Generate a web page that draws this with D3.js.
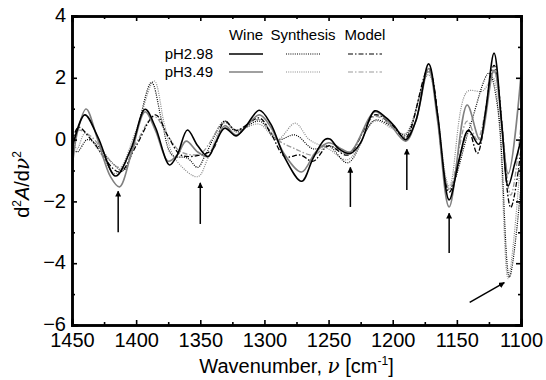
<!DOCTYPE html>
<html>
<head>
<meta charset="utf-8">
<script src="https://cdn.jsdelivr.net/npm/d3@7"></script>
<style>
  body { margin: 0; background: #fff; }
  svg { display: block; font-family: Arial, "Liberation Sans", sans-serif; }
  .axis path, .axis line { stroke: #000; }
  .axis path { stroke-width: 2.5; }
  .axis line { stroke-width: 1.6; }
  .axis text { font-size: 20px; fill: #000; }
</style>
</head>
<body>
<svg id="chart" width="546" height="380"></svg>
<script>
// wavenumber [cm-1], d2A/dv2 — picked off the figure at peaks and troughs
const winePH298 = [
  [1450, -0.3], [1440, 0.8], [1430, 0.1], [1416, -1.18], [1404, -0.3], [1393, 0.98],
  [1385, 0.4], [1374, -0.82], [1368, -0.5], [1360, 0.31], [1352, -0.2], [1344, -0.55],
  [1338, -0.1], [1331, 0.37], [1322, 0.12], [1315, 0.4], [1304, 0.95], [1295, 0.5],
  [1284, -0.6], [1271, -1.35], [1262, -0.6], [1253, 0.0], [1249, 0.02], [1242, -0.3],
  [1233, -0.45], [1225, -0.1], [1214, 0.93], [1205, 0.7], [1198, 0.4], [1190, 0.0],
  [1182, 0.6], [1172, 2.45], [1165, 0.8], [1156, -1.95], [1148, -0.6], [1141, 0.3],
  [1133, -0.15], [1128, 0.8], [1121, 2.8], [1115, 0.5], [1110, -1.5], [1105, -0.8], [1100, 0.0]
]
const winePH349 = [
  [1450, -1.0], [1446, 0.2], [1439, 0.99], [1430, 0.0], [1420, -1.2], [1413, -1.53],
  [1404, -0.5], [1393, 0.9], [1385, 0.3], [1375, -0.7], [1368, -0.5], [1361, -0.05],
  [1352, -0.4], [1344, -0.55], [1331, 0.45], [1322, 0.15], [1304, 0.8], [1295, 0.4],
  [1284, -0.5], [1271, -1.05], [1260, -0.4], [1250, -0.1], [1240, -0.3], [1233, -0.4],
  [1214, 0.9], [1205, 0.65], [1190, -0.05], [1182, 0.6], [1172, 2.3], [1165, 0.6],
  [1156, -2.18], [1142, 1.12], [1132, 0.0], [1121, 2.25], [1110, -1.1], [1100, 2.1]
]
const synthPH298 = [
  [1450, -0.2], [1446, -0.4], [1438, 0.0], [1430, -0.2], [1420, -0.7], [1410, -1.0],
  [1400, 0.2], [1388, 1.85], [1380, 0.6], [1372, -0.5], [1360, -0.6], [1352, -0.9],
  [1346, -0.5], [1331, 0.6], [1322, 0.25], [1304, 0.6], [1290, 0.0], [1276, 0.15],
  [1262, -0.3], [1250, -0.2], [1235, -0.75], [1214, 0.63], [1200, 0.4], [1190, 0.15],
  [1172, 2.2], [1156, -1.6], [1140, 0.4], [1125, 2.15], [1118, 1.0], [1109, -4.45], [1100, -1.5]
]
const synthPH349 = [
  [1450, 0.1], [1446, -0.3], [1440, 0.2], [1430, -0.3], [1416, -1.1], [1400, 0.3],
  [1386, 1.9], [1378, 0.5], [1370, -0.6], [1352, -1.2], [1344, -0.6], [1331, 0.55],
  [1322, 0.3], [1304, 0.5], [1290, 0.0], [1276, 0.53], [1265, 0.0], [1250, -0.3],
  [1235, -0.65], [1214, 0.6], [1200, 0.35], [1190, 0.2], [1172, 2.1], [1156, -1.5],
  [1142, 1.55], [1130, 1.57], [1122, 2.0], [1117, 0.5], [1110, -4.5], [1100, -0.5]
]
const modelPH298 = [
  [1450, -0.1], [1445, 0.4], [1435, 0.0], [1413, -1.05], [1400, -0.2], [1385, 0.8],
  [1375, 0.1], [1365, -0.5], [1350, -0.5], [1340, -0.3], [1331, 0.6], [1322, 0.3],
  [1304, 0.7], [1295, 0.2], [1284, -0.55], [1272, -0.5], [1262, -0.7], [1250, -0.2],
  [1235, -0.5], [1214, 0.8], [1200, 0.45], [1190, 0.05], [1172, 2.3], [1156, -1.7],
  [1141, 0.3], [1134, -0.45], [1121, 2.4], [1108, -2.2], [1100, -0.3]
]
const modelPH349 = [
  [1450, 0.0], [1445, 0.3], [1435, 0.1], [1413, -0.9], [1400, -0.1], [1386, 0.75],
  [1375, 0.1], [1365, -0.4], [1350, -0.45], [1331, 0.55], [1322, 0.3], [1304, 0.65],
  [1290, 0.0], [1276, -0.3], [1262, -0.5], [1250, -0.2], [1235, -0.45], [1214, 0.75],
  [1200, 0.4], [1190, 0.1], [1172, 2.2], [1156, -1.6], [1142, 0.6], [1134, 0.0],
  [1121, 2.2], [1108, -1.8], [1100, 0.5]
]

// arrows: [x from, y from, x to, y to] in data units
const arrows = [
  [1414, -3.0, 1414, -1.67],
  [1350, -2.73, 1350, -1.4],
  [1233, -2.18, 1233, -0.9],
  [1189, -1.63, 1189, -0.31],
  [1156, -3.67, 1156, -2.38],
  [1140, -5.27, 1113, -4.63]
]

const xMajorTicks = [1450, 1400, 1350, 1300, 1250, 1200, 1150, 1100]
const xMinorTicks = [1425, 1375, 1325, 1275, 1225, 1175, 1125]
const yMajorTicks = [-6, -4, -2, 0, 2, 4]
const yMinorTicks = [-5, -3, -1, 1, 3]

const legendRows = ['pH2.98', 'pH3.49']
const legendCols = ['Wine', 'Synthesis', 'Model']

const width = 546
const height = 380
const margin = { top: 16, right: 25, bottom: 55, left: 72 }
const innerW = width - margin.left - margin.right
const innerH = height - margin.top - margin.bottom

const series = [
  { data: synthPH349, color: '#8a8a8a', dash: '1,1.2', w: 1.2 },
  { data: synthPH298, color: '#000', dash: '1,1.2', w: 1.2 },
  { data: modelPH349, color: '#9a9a9a', dash: '5,2,1.5,2', w: 1.3 },
  { data: modelPH298, color: '#000', dash: '5,2,1.5,2', w: 1.3 },
  { data: winePH349, color: '#808080', dash: null, w: 1.6 },
  { data: winePH298, color: '#000', dash: null, w: 1.6 }
]

const svg = d3.select('#chart')
const g = svg.append('g').attr('transform', `translate(${margin.left},${margin.top})`)

const x = d3.scaleLinear().domain([1450, 1100]).range([0, innerW])
const y = d3.scaleLinear().domain([-6, 4]).range([innerH, 0])

svg.append('defs').append('clipPath').attr('id', 'plot-clip')
  .append('rect').attr('width', innerW).attr('height', innerH)

const line = d3.line()
  .x(d => x(d[0]))
  .y(d => y(d[1]))
  .curve(d3.curveCatmullRom.alpha(0.5))

const plot = g.append('g').attr('clip-path', 'url(#plot-clip)')
series.forEach(s => {
  plot.append('path')
    .datum(s.data)
    .attr('d', line)
    .attr('fill', 'none')
    .attr('stroke', s.color)
    .attr('stroke-width', s.w)
    .attr('stroke-dasharray', s.dash)
})

// arrows
svg.append('defs').append('marker')
  .attr('id', 'head')
  .attr('viewBox', '0 0 10 10')
  .attr('refX', 9).attr('refY', 5)
  .attr('markerWidth', 6).attr('markerHeight', 6)
  .attr('markerUnits', 'userSpaceOnUse')
  .attr('orient', 'auto')
  .append('path').attr('d', 'M0,0 L10,5 L0,10 z').attr('fill', '#000')

g.selectAll('.arrow')
  .data(arrows)
  .join('line')
  .attr('class', 'arrow')
  .attr('x1', d => x(d[0])).attr('y1', d => y(d[1]))
  .attr('x2', d => x(d[2])).attr('y2', d => y(d[3]))
  .attr('stroke', '#000')
  .attr('stroke-width', 1.5)
  .attr('marker-end', 'url(#head)')

// axes, ticks point inward on all four sides
const addAxis = (axis, transform, cls) => {
  const a = g.append('g').attr('class', 'axis ' + cls).attr('transform', transform).call(axis)
  return a
}
addAxis(d3.axisBottom(x).tickValues(xMajorTicks).tickSize(-5).tickPadding(8).tickFormat(d3.format('d')),
  `translate(0,${innerH})`, 'x-major')
addAxis(d3.axisBottom(x).tickValues(xMinorTicks).tickSize(-3).tickFormat(''),
  `translate(0,${innerH})`, 'x-minor')
addAxis(d3.axisTop(x).tickValues(xMajorTicks).tickSize(-5).tickFormat(''), 'translate(0,0)', 'x-top')
addAxis(d3.axisTop(x).tickValues(xMinorTicks).tickSize(-3).tickFormat(''), 'translate(0,0)', 'x-top-minor')
addAxis(d3.axisLeft(y).tickValues(yMajorTicks).tickSize(-5).tickPadding(6).tickFormat(d3.format('d')),
  'translate(0,0)', 'y-major')
addAxis(d3.axisLeft(y).tickValues(yMinorTicks).tickSize(-3).tickFormat(''), 'translate(0,0)', 'y-minor')
addAxis(d3.axisRight(y).tickValues(yMajorTicks).tickSize(-5).tickFormat(''),
  `translate(${innerW},0)`, 'y-right')
addAxis(d3.axisRight(y).tickValues(yMinorTicks).tickSize(-3).tickFormat(''),
  `translate(${innerW},0)`, 'y-right-minor')
g.selectAll('.axis path').attr('stroke-linecap', 'square')
g.select('.y-major').selectAll('text').attr('dy', '0.28em')

// axis titles
const xTitle = svg.append('text')
  .attr('x', margin.left + innerW / 2)
  .attr('y', 373)
  .attr('text-anchor', 'middle')
  .style('font-size', '20px')
xTitle.append('tspan').text('Wavenumber, ')
xTitle.append('tspan').attr('font-family', 'DejaVu Serif').attr('font-style', 'italic').text('ν')
xTitle.append('tspan').text(' [cm')
xTitle.append('tspan').attr('dy', -8).style('font-size', '12px').text('-1')
xTitle.append('tspan').attr('dy', 8).text(']')

const yTitle = svg.append('text')
  .attr('transform', `translate(29,${margin.top + innerH / 2 + 14}) rotate(-90)`)
  .attr('text-anchor', 'middle')
  .style('font-size', '20px')
yTitle.append('tspan').text('d')
yTitle.append('tspan').attr('dy', -8).style('font-size', '12px').text('2')
yTitle.append('tspan').attr('dy', 8).attr('font-style', 'italic').text('A')
yTitle.append('tspan').text('/d')
yTitle.append('tspan').attr('font-family', 'DejaVu Serif').attr('font-style', 'italic').text('ν')
yTitle.append('tspan').attr('dy', -8).style('font-size', '12px').text('2')

// legend
const legendColX = [246, 303, 365]
const legendRowY = [54, 72]
const legendStyles = [
  [{ color: '#000', dash: null }, { color: '#808080', dash: null }],
  [{ color: '#000', dash: '1,1.2' }, { color: '#8a8a8a', dash: '1,1.2' }],
  [{ color: '#000', dash: '5,2,1.5,2' }, { color: '#9a9a9a', dash: '5,2,1.5,2' }]
]
const legend = svg.append('g').style('font-size', '15px')
legendCols.forEach((c, i) => {
  legend.append('text').attr('x', legendColX[i]).attr('y', 40).attr('text-anchor', 'middle').text(c)
  legendRows.forEach((r, j) => {
    legend.append('line')
      .attr('x1', legendColX[i] - 17).attr('x2', legendColX[i] + 17)
      .attr('y1', legendRowY[j]).attr('y2', legendRowY[j])
      .attr('stroke', legendStyles[i][j].color)
      .attr('stroke-width', i === 0 ? 1.6 : 1.2)
      .attr('stroke-dasharray', legendStyles[i][j].dash)
  })
})
legendRows.forEach((r, j) => {
  legend.append('text').attr('x', 213).attr('y', legendRowY[j] + 5).attr('text-anchor', 'end').text(r)
})
</script>
</body>
</html>
